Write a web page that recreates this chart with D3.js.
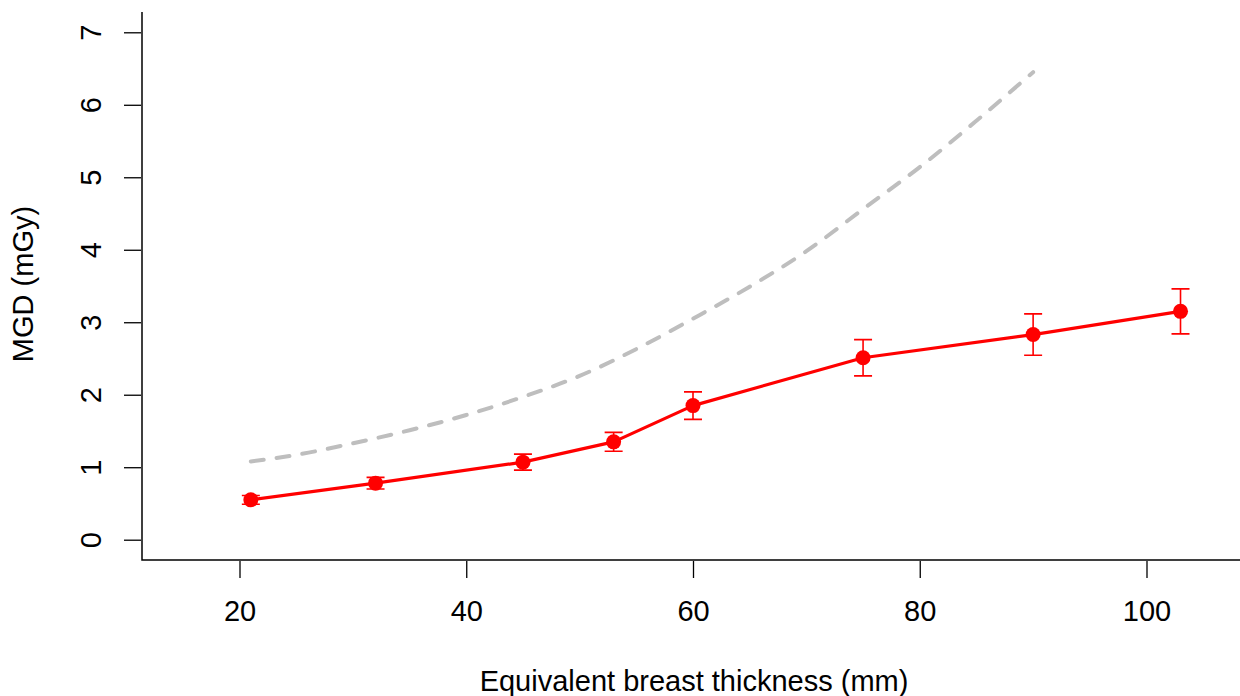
<!DOCTYPE html>
<html>
<head>
<meta charset="utf-8">
<script src="https://cdn.jsdelivr.net/npm/d3@7.9.0/dist/d3.min.js"></script>
<style>
  body { margin: 0; background: #fff; }
  svg text { font-family: "Liberation Sans", Arial, sans-serif; fill: #000; }
</style>
</head>
<body>
<svg id="chart" width="1240" height="696"></svg>
<script>
// measured doses (red)
const thickness = [21, 32, 45, 53, 60, 75, 90, 103];
const mgd = [0.55, 0.78, 1.07, 1.35, 1.85, 2.51, 2.83, 3.15];
const mgdErr = [0.06, 0.08, 0.11, 0.13, 0.19, 0.25, 0.285, 0.31];

// reference curve (grey dashed)
const refThickness = [21, 25, 30, 35, 40, 45, 50, 55, 60, 65, 70, 75, 80, 85, 90];
const refMgd = [1.08, 1.17, 1.33, 1.51, 1.72, 1.97, 2.26, 2.63, 3.05, 3.49, 3.98, 4.56, 5.14, 5.78, 6.45];

const xTicks = [20, 40, 60, 80, 100];
const yTicks = [0, 1, 2, 3, 4, 5, 6, 7];

const fontSize = 29;
const svg = d3.select("#chart");

const x = d3.scaleLinear().domain([11.4, 108.6]).range([142, 1244]);
const y = d3.scaleLinear().domain([-0.28, 7.28]).range([560, 12]);

// L-shaped box
svg.append("path")
  .attr("d", `M${x.range()[0]},${y.range()[1]}V${y.range()[0]}H1240`)
  .attr("fill", "none")
  .attr("stroke", "#000")
  .attr("stroke-width", 1.5);

// x axis
const gx = svg.append("g")
  .attr("transform", "translate(0,561)")
  .call(d3.axisBottom(x).tickValues(xTicks).tickSize(17).tickPadding(22).tickSizeOuter(0));
gx.select(".domain").remove();
gx.selectAll("line").attr("stroke-width", 1.3);
gx.selectAll("text").attr("font-size", fontSize);

// y axis
const gy = svg.append("g")
  .attr("transform", "translate(141,0)")
  .call(d3.axisLeft(y).tickValues(yTicks).tickSize(17).tickSizeOuter(0));
gy.select(".domain").remove();
gy.selectAll("line").attr("stroke-width", 1.3);
gy.selectAll("text")
  .attr("font-size", fontSize)
  .attr("text-anchor", "middle")
  .attr("x", null)
  .attr("dy", null)
  .attr("transform", "translate(-40,0) rotate(-90)");

// axis titles
svg.append("text")
  .attr("x", 694)
  .attr("y", 691)
  .attr("text-anchor", "middle")
  .attr("font-size", fontSize)
  .text("Equivalent breast thickness (mm)");

svg.append("text")
  .attr("transform", "translate(33,284) rotate(-90)")
  .attr("text-anchor", "middle")
  .attr("font-size", fontSize)
  .text("MGD (mGy)");

// reference curve
const refLine = d3.line()
  .x((d, i) => x(refThickness[i]))
  .y((d) => y(d))
  .curve(d3.curveMonotoneX);

svg.append("path")
  .datum(refMgd)
  .attr("d", refLine)
  .attr("fill", "none")
  .attr("stroke", "#bebebe")
  .attr("stroke-width", 4)
  .attr("stroke-linecap", "round")
  .attr("stroke-dasharray", "13,13");

// measured line
const line = d3.line()
  .x((d, i) => x(thickness[i]))
  .y((d) => y(d));

svg.append("path")
  .datum(mgd)
  .attr("d", line)
  .attr("fill", "none")
  .attr("stroke", "#ff0000")
  .attr("stroke-width", 3.2)
  .attr("stroke-linejoin", "round")
  .attr("stroke-linecap", "round");

// error bars
const bars = svg.append("g")
  .attr("stroke", "#ff0000")
  .attr("stroke-width", 1.6)
  .attr("fill", "none");

thickness.forEach((t, i) => {
  const cx = x(t);
  const top = y(mgd[i] + mgdErr[i]);
  const bot = y(mgd[i] - mgdErr[i]);
  bars.append("path")
    .attr("d", `M${cx},${top}V${bot}M${cx - 9},${top}H${cx + 9}M${cx - 9},${bot}H${cx + 9}`);
});

// points
svg.append("g")
  .selectAll("circle")
  .data(mgd)
  .join("circle")
  .attr("cx", (d, i) => x(thickness[i]))
  .attr("cy", (d) => y(d))
  .attr("r", 7.5)
  .attr("fill", "#ff0000");
</script>
</body>
</html>
